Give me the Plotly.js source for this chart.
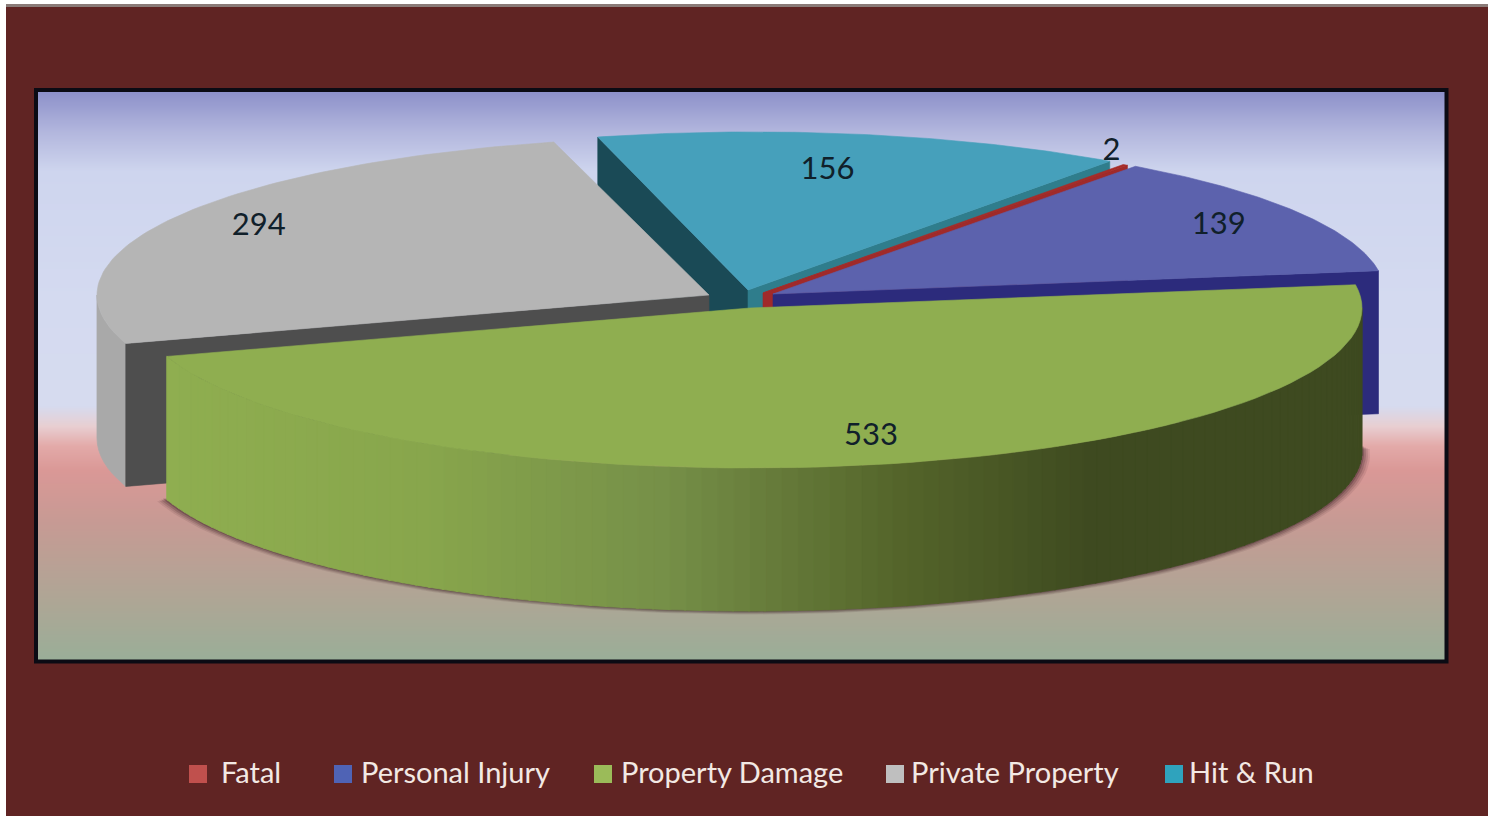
<!DOCTYPE html>
<html><head><meta charset="utf-8">
<script src="https://cdn.plot.ly/plotly-3.0.1.min.js"></script>
<style>html,body{margin:0;padding:0;background:#fff;overflow:hidden}#c{width:1496px;height:816px}</style>
</head><body><div id="c"></div>
<script>
// ---- data ----
const categories = ['Fatal', 'Personal Injury', 'Property Damage', 'Private Property', 'Hit & Run'];
const values = [2, 139, 533, 294, 156];

// ---- styles ----
const topColors  = ['#a82c28', '#5c62ad', '#8fae50', '#b5b5b5', '#46a0bb'];
const wallColors = ['#a02a2a', '#2c2b7c', '#3c471f', '#4e4e4e', '#2f7d8c'];
const keyColors  = ['#c0504d', '#4f63b5', '#9bbb59', '#bfbfbf', '#2fa3bd'];
const txt = '#10202a';
const font = 'Lato, "Open Sans", sans-serif';

// ---- projection geometry (screen pixels) ----
const RX = 612, RY = 160, DEPTH = 143, START = 36.5, SKEW_DEG = 1.3, PERSP_Y = 0.012;
const apexX = [763, 773, 750, 709, 748];
const apexY = [293, 294, 308, 295, 290];
const arcShiftX = [2, 0, 0, 0, 5];
const labelFx = [0.95, 0.846, 0.88, 0.845, 0.65];
const labelFy = [1.10, 0.83, 0.83, 0.86, 0.76];
const keyX = [198, 343, 603, 895, 1174];
const keyTextX = [221, 361, 621, 911, 1189];

const total = values.reduce((a, b) => a + b, 0);
const spans = [];
let acc = START;
values.forEach(v => { const s = acc; acc += v / total * 360; spans.push([s, acc]); });

const rad = d => d * Math.PI / 180;
const far = t => Math.max(0, Math.cos(rad(t)));
const skew = t => t - SKEW_DEG * far(t) * far(t);
const px = (i, t) => apexX[i] + arcShiftX[i] + RX * Math.sin(rad(skew(t)));
const py = (i, t) => apexY[i] - RY * (1 - PERSP_Y * far(t)) * Math.cos(rad(skew(t)));

function poly(x, y, color, lineW = 0.6) {
  return {type: 'scatter', mode: 'lines', x: x.concat(x[0]), y: y.concat(y[0]), fill: 'toself',
    fillcolor: color, line: {color: color, width: lineW}, hoverinfo: 'skip', showlegend: false};
}
function arc(i, a, b, n) {
  const xs = [], ys = [];
  for (let k = 0; k <= n; k++) { const t = a + (b - a) * k / n; xs.push(px(i, t)); ys.push(py(i, t)); }
  return [xs, ys];
}
function topFace(i) {
  const [xs, ys] = arc(i, spans[i][0], spans[i][1], 80);
  return poly([apexX[i]].concat(xs), [apexY[i]].concat(ys), topColors[i]);
}
function radialWall(i, t, color) {
  const x0 = apexX[i], y0 = apexY[i], x1 = px(i, t), y1 = py(i, t);
  return poly([x0, x1, x1, x0], [y0, y1, y1 + DEPTH, y0 + DEPTH], color);
}
function sideBand(i, a, b, color) {
  const [xs, ys] = arc(i, a, b, 8);
  return poly(xs.concat(xs.slice().reverse()), ys.concat(ys.slice().reverse().map(v => v + DEPTH)), color, 0.8);
}
const greenStops = [[160, [143, 174, 80]], [420, [136, 166, 76]], [660, [118, 144, 72]], [900, [84, 100, 42]], [1090, [62, 74, 32]], [1370, [62, 74, 32]]];
function greenAt(x) {
  for (let k = 1; k < greenStops.length; k++) {
    const [x0, c0] = greenStops[k - 1], [x1, c1] = greenStops[k];
    if (x <= x1) { const f = Math.max(0, (x - x0) / (x1 - x0));
      return 'rgb(' + c0.map((c, j) => Math.round(c + (c1[j] - c) * f)).join(',') + ')'; }
  }
  return 'rgb(62,74,32)';
}

const traces = [];

// panel gradient (first and last rows sit 1px apart so the cells end at the panel edge)
const rowY = [92, 93, 130, 170, 300, 405, 425, 445, 470, 520, 600, 659, 660];
const rowZ = rowY.map(v => [v, v]);
const gradStops = ['#8e92cb', '#8f93cb', '#b2b6dd', '#ced5ee', '#d4daf0', '#d6dbef', '#e8cfd2', '#e3aaa9', '#da9896', '#c79a94', '#aea695', '#9aae98', '#9aae98'];
const panelL = 38, panelR = 1445, cellW = (panelR - panelL) / 2;
traces.push({type: 'heatmap', x: [panelL + cellW / 2, panelR - cellW / 2], y: rowY, z: rowZ, zsmooth: 'best', showscale: false,
  hoverinfo: 'skip', zmin: 92, zmax: 660, colorscale: rowY.map((v, k) => [(v - 92) / 568, gradStops[k]])});

// Hit & Run
const H = 4, F = 0, P = 1, G = 2, V = 3;
traces.push(radialWall(H, spans[H][0], '#1a4a56'));
traces.push(radialWall(H, spans[H][1], wallColors[H]));
traces.push(topFace(H));
// Private Property
traces.push(sideBand(V, spans[V][0], 270, '#a9a9a9'));
traces.push(radialWall(V, spans[V][0], wallColors[V]));
traces.push(topFace(V));
// Fatal
traces.push(radialWall(F, spans[F][1], wallColors[F]));
traces.push(topFace(F));
// Personal Injury
traces.push(radialWall(P, spans[P][1], wallColors[P]));
traces.push(topFace(P));

// soft shadow hugging the underside of the big slice
[[8, 3.5, .10], [6, 2.8, .14], [4, 2, .20], [2, 1, .30]].forEach(([grow, drop, op]) => {
  const xs = [], ys = [];
  for (let t = 88; t <= spans[G][1] + 1; t += 1.5) {
    xs.push(apexX[G] + (RX + grow) * Math.sin(rad(t)));
    ys.push(apexY[G] + DEPTH + drop - RY * Math.cos(rad(t)));
  }
  traces.push(poly(xs, ys, 'rgba(55,30,35,' + op + ')', 0));
});
// Property Damage side with left-to-right shading
const stepDeg = 1.5;
for (let t = 90; t < spans[G][1]; t += stepDeg) {
  const b = Math.min(t + stepDeg + .2, spans[G][1]);
  traces.push(sideBand(G, t, b, greenAt((px(G, t) + px(G, b)) / 2)));
}
traces.push(topFace(G));

// slice value labels
values.forEach((v, i) => {
  const mid = (spans[i][0] + spans[i][1]) / 2;
  traces.push({type: 'scatter', mode: 'text', x: [apexX[i] + RX * labelFx[i] * Math.sin(rad(mid))],
    y: [apexY[i] - RY * labelFy[i] * Math.cos(rad(mid))], text: [String(v)], textposition: 'middle center',
    textfont: {family: font, size: 31, color: txt}, hoverinfo: 'skip', showlegend: false});
});

// key
categories.forEach((c, i) => {
  traces.push({type: 'scatter', mode: 'markers', x: [keyX[i]], y: [774], name: c,
    marker: {symbol: 'square', size: 18, color: keyColors[i]}, hoverinfo: 'skip', showlegend: false});
  traces.push({type: 'scatter', mode: 'text', x: [keyTextX[i]], y: [776], text: [c], textposition: 'middle right',
    textfont: {family: font, size: 29, color: '#f3e9e4'}, hoverinfo: 'skip', showlegend: false});
});

const layout = {
  width: 1496, height: 816, margin: {l: 0, r: 0, t: 0, b: 0}, paper_bgcolor: '#ffffff', plot_bgcolor: 'rgba(0,0,0,0)',
  showlegend: false, hovermode: false,
  xaxis: {range: [0, 1496], visible: false, fixedrange: true},
  yaxis: {range: [816, 0], visible: false, fixedrange: true},
  shapes: [
    {type: 'rect', layer: 'below', x0: 6, x1: 1488, y0: 4, y1: 816, line: {width: 0}, fillcolor: '#602423'},
    {type: 'rect', layer: 'below', x0: 6, x1: 1488, y0: 4, y1: 7, line: {width: 0}, fillcolor: '#8a7b78'},
    {type: 'rect', layer: 'above', x0: 36, x1: 1446.5, y0: 90, y1: 661.5, line: {width: 4, color: '#0b0b14'}, fillcolor: 'rgba(0,0,0,0)'}
  ]
};
Plotly.newPlot('c', traces, layout, {displayModeBar: false, staticPlot: true});
</script></body></html>
